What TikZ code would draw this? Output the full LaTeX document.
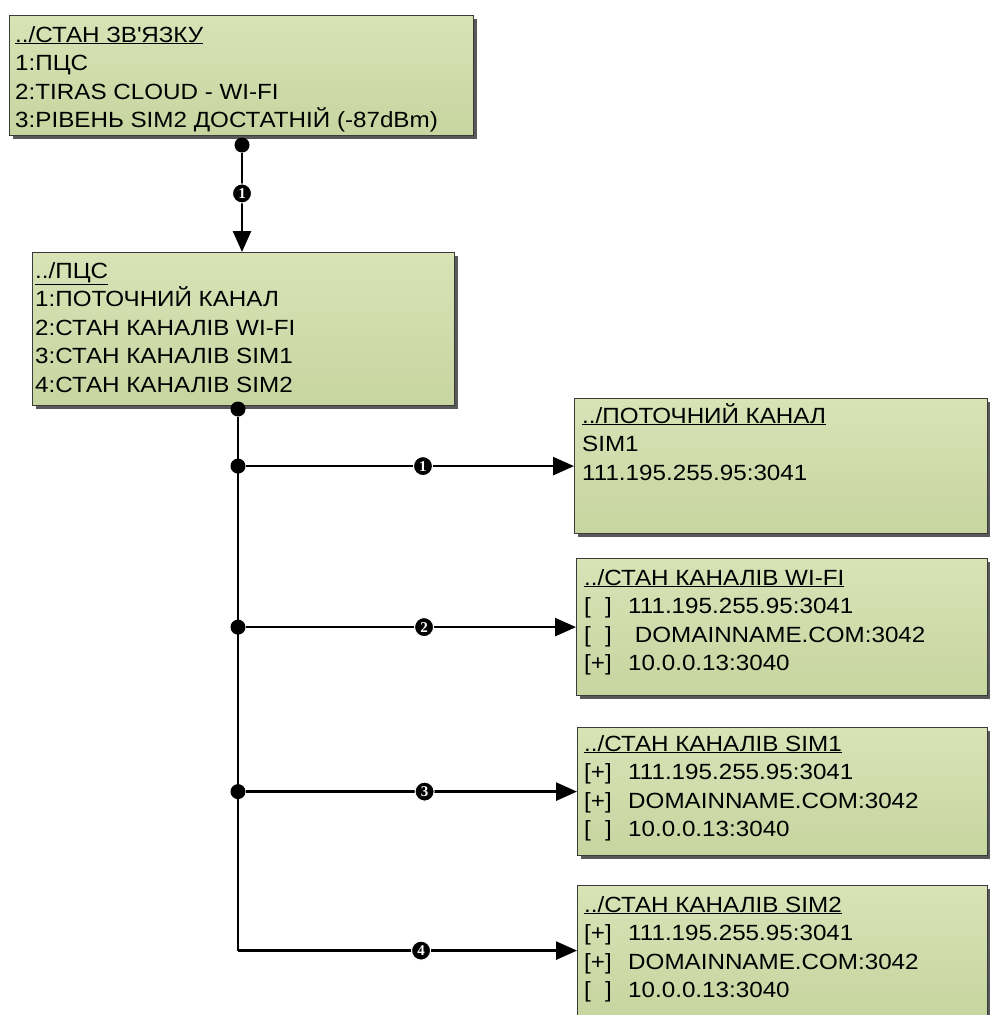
\documentclass[tikz,border=0pt]{standalone}
\usepackage{fontspec}
\setmainfont{Liberation Sans}[FakeStretch=1.1]
\newfontfamily\numfont{Liberation Serif}
\usetikzlibrary{arrows.meta,shadows}
\definecolor{boxlight}{RGB}{216,227,182}
\definecolor{boxdark}{RGB}{199,213,160}
\definecolor{boxline}{RGB}{58,58,58}
\newcommand{\chanmark}[1]{\makebox[2em][l]{[#1]}}

\begin{document}
\begin{tikzpicture}[x=1pt,y=-1pt,
	menu/.style={anchor=north west, draw=boxline, line width=1.2pt, top color=boxlight, bottom color=boxdark, drop shadow={shadow xshift=3.5pt, shadow yshift=-3.5pt, fill=black!65, opacity=1}},
	menutext/.style={anchor=base west, align=left, inner sep=0pt, font=\fontsize{22}{28.5}\selectfont},
	jdot/.style={circle, fill=black, inner sep=0pt, minimum size=15pt},
	conn/.style={line width=2.6pt},
	arr/.style={conn, -{Triangle[length=21pt,width=18pt]}},
	num/.style={circle, fill=black, draw=white, line width=1pt, text=white, inner sep=0pt, minimum size=19pt, font=\numfont\bfseries\fontsize{15}{15}\selectfont}]
		\useasboundingbox (0,0) rectangle (990,1015);
			\node[menu, minimum width=464pt, minimum height=120pt] (stan) at (9,15) {};
				\node[menutext] (stanT) at (15,127.5) {\underline{../СТАН ЗВ\textquotesingle ЯЗКУ}\\1:ПЦС\\2:TIRAS CLOUD - WI-FI\\3:РІВЕНЬ SIM2 ДОСТАТНІЙ (-87dBm)};
			\node[menu, minimum width=422pt, minimum height=153pt] (pcs) at (32,252) {};
				\node[menutext] (pcsT) at (35,392) {\underline{../ПЦС}\\1:ПОТОЧНИЙ КАНАЛ\\2:СТАН КАНАЛІВ WI-FI\\3:СТАН КАНАЛІВ SIM1\\4:СТАН КАНАЛІВ SIM2};
			\node[menu, minimum width=413pt, minimum height=135pt] (cur) at (574,398) {};
				\node[menutext] (curT) at (582,480) {\underline{../ПОТОЧНИЙ КАНАЛ}\\SIM1\\111.195.255.95:3041};
			\node[menu, minimum width=411pt, minimum height=137pt] (wifi) at (576,558) {};
				\node[menutext] (wifiT) at (584,670.5) {\underline{../СТАН КАНАЛІВ WI-FI}\\\chanmark{\phantom{+}}111.195.255.95:3041\\\chanmark{\phantom{+}}\ DOMAINNAME.COM:3042\\\chanmark{+}10.0.0.13:3040};
			\node[menu, minimum width=410pt, minimum height=128pt] (simA) at (577,727) {};
				\node[menutext] (simAT) at (584,836.5) {\underline{../СТАН КАНАЛІВ SIM1}\\\chanmark{+}111.195.255.95:3041\\\chanmark{+}DOMAINNAME.COM:3042\\\chanmark{\phantom{+}}10.0.0.13:3040};
			\node[menu, minimum width=410pt, minimum height=130pt] (simB) at (577,885) {};
				\node[menutext] (simBT) at (584,997.5) {\underline{../СТАН КАНАЛІВ SIM2}\\\chanmark{+}111.195.255.95:3041\\\chanmark{+}DOMAINNAME.COM:3042\\\chanmark{\phantom{+}}10.0.0.13:3040};

			\node[jdot] (stanD) at (242,145) {};
			\node[jdot] (pcsD) at (238,409) {};
				\node[jdot] (j1) at (pcsD |- cur.west) {};
				\node[jdot] (j2) at (pcsD |- wifi.west) {};
				\node[jdot] (j3) at (pcsD |- simA.west) {};
				\coordinate (j4) at (pcsD |- simB.west);

			\draw[arr] (stanD) -- node[num, pos=0.41] (n0) {1} (stanD |- pcs.north);
			\draw[conn] (pcsD) -- (j4);
				\draw[arr] (j1) -- node[num, pos=0.54] (n1) {1} (cur.west);
				\draw[arr] (j2) -- node[num, pos=0.54] (n2) {2} (wifi.west);
				\draw[arr] (j3) -- node[num, pos=0.54] (n3) {3} (simA.west);
				\draw[arr] (j4) -- node[num, pos=0.54] (n4) {4} (simB.west);
\end{tikzpicture}
\end{document}
